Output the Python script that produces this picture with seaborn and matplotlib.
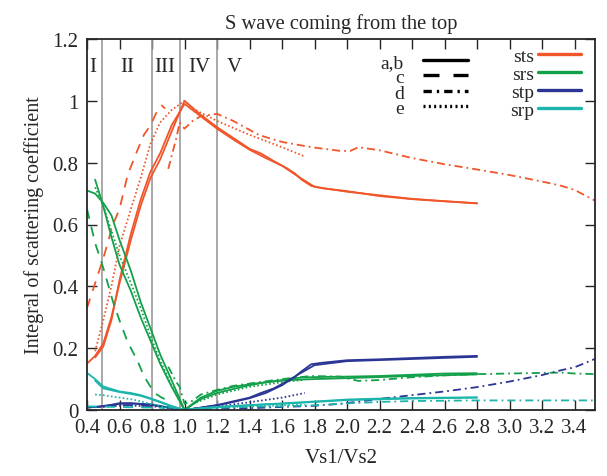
import numpy as np
import pandas as pd
import matplotlib
matplotlib.use("Agg")
import matplotlib.pyplot as plt
from matplotlib.lines import Line2D
import seaborn as sns

# components and colours
components = ["sts", "srs", "stp", "srp"]
colors = ["#F0562A", "#12A14A", "#2B3594", "#1CB5AC"]

# variant a,b (solid)
x_a = [0.4, 0.45, 0.5, 0.55, 0.6, 0.67, 0.73, 0.79, 0.85, 0.92, 1.0, 1.1, 1.2, 1.3,
       1.4, 1.47, 1.55, 1.62, 1.68, 1.72, 1.78, 1.85, 2.0, 2.2, 2.4, 2.6, 2.8]
sts_a = [0.15, 0.175, 0.215, 0.3, 0.41, 0.55, 0.66, 0.75, 0.81, 0.9, 1.0, 0.955, 0.915, 0.88,
         0.845, 0.83, 0.805, 0.785, 0.765, 0.745, 0.725, 0.717, 0.708, 0.692, 0.682, 0.675, 0.669]
srs_a = [0.71, 0.70, 0.67, 0.63, 0.55, 0.45, 0.35, 0.265, 0.18, 0.097, 0.0, 0.035, 0.055, 0.068,
         0.08, 0.087, 0.093, 0.098, 0.103, 0.105, 0.106, 0.107, 0.108, 0.11, 0.114, 0.118, 0.119]
stp_a = [0.008, 0.01, 0.013, 0.017, 0.022, 0.022, 0.02, 0.018, 0.013, 0.006, 0.0, 0.008, 0.016, 0.028,
         0.04, 0.055, 0.07, 0.09, 0.108, 0.125, 0.148, 0.153, 0.161, 0.164, 0.168, 0.172, 0.175]
srp_a = [0.12, 0.1, 0.076, 0.068, 0.06, 0.055, 0.048, 0.038, 0.027, 0.013, 0.0, 0.006, 0.01, 0.013,
         0.016, 0.018, 0.02, 0.022, 0.024, 0.025, 0.027, 0.029, 0.034, 0.037, 0.039, 0.04, 0.041]

x_b = [0.45, 0.5, 0.55, 0.6, 0.67, 0.73, 0.79, 0.85, 0.92, 1.0, 1.1, 1.2, 1.3, 1.4, 1.5,
       1.6, 1.7, 1.8, 2.0, 2.4, 2.8]
sts_b = [0.17, 0.205, 0.29, 0.42, 0.57, 0.68, 0.77, 0.83, 0.92, 0.99, 0.95, 0.91, 0.875, 0.842, 0.815,
         0.79, 0.755, 0.722, 0.706, 0.683, 0.668]
srs_b = [0.745, 0.66, 0.56, 0.47, 0.385, 0.30, 0.225, 0.15, 0.076, 0.0, 0.04, 0.062, 0.075, 0.083, 0.09,
         0.095, 0.098, 0.1, 0.103, 0.11, 0.115]
stp_b = [0.009, 0.012, 0.015, 0.02, 0.021, 0.019, 0.017, 0.012, 0.006, 0.0, 0.007, 0.015, 0.026, 0.038, 0.055,
         0.08, 0.115, 0.145, 0.158, 0.165, 0.172]
srp_b = [0.095, 0.07, 0.064, 0.058, 0.052, 0.046, 0.036, 0.025, 0.012, 0.0, 0.005, 0.009, 0.012, 0.015, 0.018,
         0.02, 0.023, 0.026, 0.032, 0.037, 0.04]

# variant c (dashed)
x_c = [0.4, 0.45, 0.5, 0.56, 0.6, 0.65, 0.71, 0.75, 0.79, 0.83, 0.86, 0.88]
sts_c = [0.33, 0.41, 0.49, 0.6, 0.65, 0.76, 0.84, 0.89, 0.92, 0.965, 0.985, 0.975]
srs_c = [0.65, 0.54, 0.46, 0.35, 0.29, 0.22, 0.16, 0.11, 0.076, 0.05, 0.04, 0.035]
stp_c = [0.008, 0.01, 0.012, 0.014, 0.015, 0.016, 0.015, 0.014, 0.012, 0.01, 0.009, 0.008]
srp_c = [0.012, 0.011, 0.011, 0.01, 0.01, 0.009, 0.009, 0.008, 0.008, 0.007, 0.007, 0.006]

# variant d (dash-dot)
x_d = [0.9, 0.95, 0.97, 1.0, 1.05, 1.1, 1.2, 1.3, 1.46, 1.6, 1.78, 1.96, 2.02, 2.07, 2.2,
       2.4, 2.6, 2.8, 3.0, 3.2, 3.32, 3.4, 3.53]
sts_d = [0.78, 0.88, 0.93, 0.91, 0.935, 0.95, 0.958, 0.935, 0.889, 0.867, 0.85, 0.838, 0.838, 0.85, 0.84,
         0.815, 0.795, 0.778, 0.76, 0.739, 0.725, 0.712, 0.676]
srs_d = [0.14, 0.09, 0.075, 0.02, 0.03, 0.05, 0.065, 0.078, 0.09, 0.1, 0.11, 0.108, 0.1, 0.094, 0.097,
         0.106, 0.112, 0.116, 0.118, 0.12, 0.121, 0.118, 0.116]
stp_d = [0.012, 0.006, 0.004, 0.0, 0.002, 0.003, 0.004, 0.005, 0.007, 0.01, 0.013, 0.02, 0.024, 0.027, 0.036,
         0.048, 0.06, 0.074, 0.092, 0.113, 0.129, 0.138, 0.166]
srp_d = [0.01, 0.006, 0.004, 0.0, 0.003, 0.005, 0.007, 0.009, 0.011, 0.012, 0.015, 0.02, 0.022, 0.023, 0.026,
         0.029, 0.03, 0.031, 0.031, 0.031, 0.031, 0.031, 0.031]

# variant e (dotted)
x_e = [0.45, 0.5, 0.55, 0.6, 0.67, 0.73, 0.79, 0.85, 0.92, 1.0, 1.05, 1.2, 1.4, 1.6, 1.74]
sts_e = [0.19, 0.29, 0.40, 0.53, 0.65, 0.75, 0.86, 0.93, 0.97, 1.0, 0.975, 0.935, 0.89, 0.85, 0.82]
srs_e = [0.72, 0.66, 0.58, 0.5, 0.41, 0.33, 0.24, 0.16, 0.08, 0.0, 0.02, 0.05, 0.075, 0.09, 0.098]
stp_e = [0.01, 0.01, 0.012, 0.014, 0.014, 0.013, 0.012, 0.01, 0.006, 0.0, 0.004, 0.012, 0.025, 0.04, 0.055]
srp_e = [0.05, 0.048, 0.044, 0.04, 0.035, 0.028, 0.02, 0.014, 0.007, 0.0, 0.003, 0.008, 0.012, 0.015, 0.017]

region_edges = [0.49, 0.8, 0.97, 1.2]
region_names = ["I", "II", "III", "IV", "V"]
region_label_x = [0.437, 0.646, 0.88, 1.09, 1.305]

style_labels = ["a,b", "c", "d", "e"]

series = {
    "a": (x_a, [sts_a, srs_a, stp_a, srp_a]),
    "b": (x_b, [sts_b, srs_b, stp_b, srp_b]),
    "c": (x_c, [sts_c, srs_c, stp_c, srp_c]),
    "d": (x_d, [sts_d, srs_d, stp_d, srp_d]),
    "e": (x_e, [sts_e, srs_e, stp_e, srp_e]),
}

rows = []
for var, (xs, ys_list) in series.items():
    for comp, ys in zip(components, ys_list):
        for xv, yv in zip(xs, ys):
            rows.append({"x": xv, "y": yv, "comp": comp, "variant": var})
df = pd.DataFrame(rows)

sns.set_style("ticks")
plt.rcParams["font.family"] = ["Liberation Serif", "DejaVu Serif"]

fig, ax = plt.subplots(figsize=(6.07, 4.77), dpi=100)
fig.subplots_adjust(left=87 / 607, right=595 / 607, top=1 - 40 / 477, bottom=1 - 411 / 477)

for xe in region_edges:
    ax.axvline(xe, color="#9a9a9a", lw=1.2, zorder=1)

dash_map = {"a": "", "b": "", "c": (5.5, 4.5), "d": (4.5, 2.2, 1, 2.2), "e": (0.9, 1.3)}
sns.lineplot(data=df, x="x", y="y", hue="comp", style="variant",
             units="variant", estimator=None, sort=False,
             palette=dict(zip(components, colors)), dashes=dash_map,
             hue_order=components, lw=1.3, legend=False, ax=ax)

for name, xv in zip(region_names, region_label_x):
    ax.text(xv, 1.11, name, ha="center", va="center", fontsize=15)

ax.set_xlim(0.4, 3.526)
ax.set_ylim(0, 1.2)
ax.set_xticks(np.arange(0.4, 3.41, 0.2))
ax.set_xticklabels([f"{v:.1f}" for v in np.arange(0.4, 3.41, 0.2)])
ax.set_yticks([0, 0.2, 0.4, 0.6, 0.8, 1.0, 1.2])
ax.set_yticklabels(["0", "0.2", "0.4", "0.6", "0.8", "1", "1.2"])
ax.tick_params(direction="in", length=7, width=1, top=True, right=True, labelsize=15, pad=6)
for sp in ax.spines.values():
    sp.set_linewidth(1.3)
ax.set_xlabel("Vs1/Vs2", fontsize=15, labelpad=8)
ax.set_ylabel("Integral of scattering coefficient", fontsize=14.5, labelpad=6)
ax.set_title("S wave coming from the top", fontsize=14.8, pad=8)

style_handles = [
    Line2D([], [], color="black", lw=2.4),
    Line2D([], [], color="black", lw=2.4, dashes=(4.8, 4.2)),
    Line2D([], [], color="black", lw=2.4, dashes=(2.5, 1.5, 0.7, 1.5)),
    Line2D([], [], color="black", lw=2.4, dashes=(0.6, 1.0)),
]
leg1 = ax.legend(style_handles, style_labels, loc="upper right", markerfirst=False,
                 bbox_to_anchor=(468 / 607, 1 - 54 / 477), bbox_transform=fig.transFigure,
                 frameon=False, fontsize=14, handlelength=2.3, handletextpad=1.0,
                 borderpad=0, borderaxespad=0, labelspacing=-0.11)
ax.add_artist(leg1)
color_handles = [Line2D([], [], color=c, lw=2.4) for c in colors]
ax.legend(color_handles, components, loc="upper right", markerfirst=False,
          bbox_to_anchor=(581 / 607, 1 - 48 / 477), bbox_transform=fig.transFigure,
          frameon=False, fontsize=14, handlelength=2.2, handletextpad=0.2,
          borderpad=0, borderaxespad=0, labelspacing=0.03)

fig.savefig("out.png", dpi=100)
